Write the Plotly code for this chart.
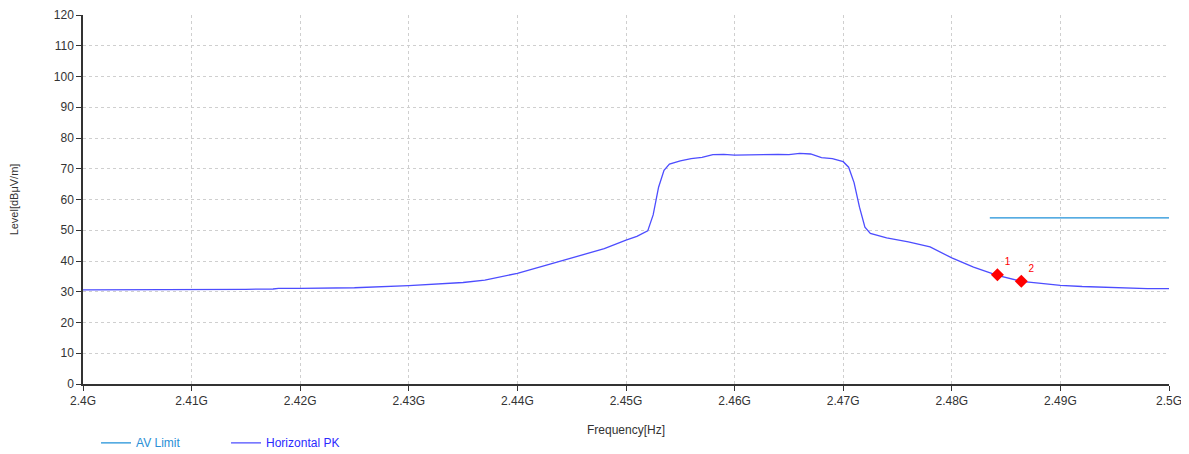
import plotly.graph_objects as go

# Horizontal PK trace (frequency in GHz, level in dBuV/m)
pk_freq = [2.400, 2.405, 2.410, 2.415, 2.4175, 2.418, 2.420, 2.425, 2.430, 2.435, 2.437,
           2.440, 2.443, 2.445, 2.448, 2.450, 2.451, 2.452, 2.4525, 2.453, 2.4535,
           2.454, 2.455, 2.456, 2.457, 2.458, 2.459, 2.460, 2.461, 2.462, 2.463,
           2.464, 2.465, 2.466, 2.467, 2.468, 2.469, 2.470, 2.4705, 2.471, 2.4715,
           2.472, 2.4725, 2.474, 2.476, 2.478, 2.480, 2.482, 2.4842, 2.4864, 2.488,
           2.490, 2.492, 2.495, 2.498, 2.500]
pk_level = [30.6, 30.6, 30.6, 30.8, 30.9, 31.1, 31.1, 31.3, 32.0, 33.0, 33.8,
            36.0, 39.0, 41.0, 44.0, 46.8, 48.0, 49.8, 55.0, 64.0, 69.5,
            71.5, 72.6, 73.3, 73.7, 74.6, 74.7, 74.4, 74.5, 74.6, 74.5,
            74.7, 74.6, 75.0, 74.8, 73.6, 73.3, 72.3, 70.5, 65.5, 57.5,
            51.0, 49.0, 47.5, 46.2, 44.6, 41.0, 38.0, 35.3, 33.4, 32.8,
            32.1, 31.7, 31.3, 31.0, 31.0]

# AV limit
limit_freq = [2.4835, 2.500]
limit_level = [54.0, 54.0]

# Markers
marker_freq = [2.4842, 2.4864]
marker_level = [35.5, 33.4]
marker_labels = ["1", "2"]

x_ticks = [2.40, 2.41, 2.42, 2.43, 2.44, 2.45, 2.46, 2.47, 2.48, 2.49, 2.50]
x_labels = ["2.4G", "2.41G", "2.42G", "2.43G", "2.44G", "2.45G", "2.46G",
            "2.47G", "2.48G", "2.49G", "2.5G"]

fig = go.Figure()

fig.add_trace(go.Scatter(
    x=limit_freq, y=limit_level, mode="lines",
    name="<span style='color:#2a8fd6'>AV Limit</span>",
    line=dict(color="#1e90d8", width=1.3),
))
fig.add_trace(go.Scatter(
    x=pk_freq, y=pk_level, mode="lines",
    name="<span style='color:#2b2bff'>Horizontal PK</span>",
    line=dict(color="#4d4dff", width=1.3),
))
fig.add_trace(go.Scatter(
    x=marker_freq, y=marker_level, mode="markers+text", text=marker_labels,
    textposition="top right", textfont=dict(color="red", size=10),
    marker=dict(symbol="diamond", color="red", size=10),
    showlegend=False, cliponaxis=False,
))

# the page body adds a small offset, so margins are shifted to compensate
fig.update_layout(
    width=1189, height=454,
    margin=dict(l=75, r=28, t=7, b=78, autoexpand=False),
    paper_bgcolor="white", plot_bgcolor="white",
    font=dict(family="Liberation Sans, Arial", size=12, color="#333"),
    legend=dict(orientation="h", x=0.012, y=-0.12, xanchor="left", yanchor="top",
                font=dict(size=12), entrywidth=85, itemwidth=30),
)

fig.update_xaxes(
    range=[2.40, 2.50], tickvals=x_ticks, ticktext=x_labels,
    showgrid=True, gridcolor="#cfcfcf", griddash="dot", gridwidth=1,
    showline=True, linecolor="#333", linewidth=1.5,
    ticks="outside", ticklen=5, tickcolor="#333", ticklabeloverflow="allow",
    title=dict(text="Frequency[Hz]", font=dict(size=12), standoff=18),
    zeroline=False, automargin=False,
)
fig.update_yaxes(
    range=[0, 120], dtick=10,
    showgrid=True, gridcolor="#cfcfcf", griddash="dot", gridwidth=1,
    showline=True, linecolor="#333", linewidth=1.5,
    ticks="outside", ticklen=5, tickcolor="#333", ticklabeloverflow="allow",
    title=dict(text="Level[dBμV/m]", font=dict(size=11), standoff=40),
    zeroline=False, automargin=False,
)

fig.write_html("out.html")
